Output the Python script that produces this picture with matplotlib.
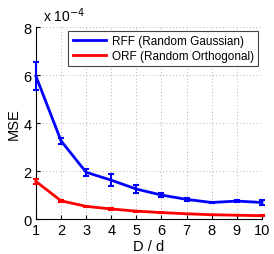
import numpy as np
import matplotlib
matplotlib.use("Agg")
import matplotlib.pyplot as plt

plt.rcParams['font.family'] = ['Liberation Sans', 'DejaVu Sans']

ratio = [1, 2, 3, 4, 5, 6, 7, 8, 9, 10]
rff_mse = [5.96, 3.26, 1.95, 1.62, 1.25, 1.0, 0.82, 0.69, 0.75, 0.69]
rff_err = [0.6, 0.12, 0.15, 0.25, 0.15, 0.1, 0.05, 0.04, 0.04, 0.1]
orf_mse = [1.57, 0.76, 0.53, 0.42, 0.33, 0.27, 0.22, 0.18, 0.16, 0.14]
orf_err = [0.1, 0.03, 0.03, 0.03, 0.02, 0.02, 0.01, 0.01, 0.01, 0.01]

fig = plt.figure(figsize=(2.74, 2.55), dpi=100)
ax = fig.add_axes([0.131, 0.137, 0.825, 0.753])

for y, err, col, lab in [(rff_mse, rff_err, '#0000ff', 'RFF (Random Gaussian)'),
                         (orf_mse, orf_err, '#ff0000', 'ORF (Random Orthogonal)')]:
    ax.plot(ratio, y, color=col, lw=2, label=lab, clip_on=False, zorder=3)
    eb = ax.errorbar(ratio, y, yerr=err, fmt='none', ecolor=col, capsize=2.5,
                     elinewidth=1.5, capthick=1.5, zorder=3)
    for art in eb.lines[1] + eb.lines[2]:
        art.set_clip_on(False)

ax.set_xlim(1, 10)
ax.set_ylim(0, 8)
ax.set_xticks(ratio)
ax.set_yticks([0, 2, 4, 6, 8])
ax.tick_params(direction='in', labelsize=10.5, length=3, pad=3)
ax.grid(True, linestyle=(0, (1, 3)), color='#999999', lw=0.6)
ax.spines['top'].set_visible(False)
ax.spines['right'].set_visible(False)
ax.set_xlabel('D / d', fontsize=10.5, labelpad=1)
ax.set_ylabel('MSE', fontsize=10.5, labelpad=2)
ax.text(0.03, 1.015, r'x 10$^{-4}$', transform=ax.transAxes, fontsize=10, va='bottom')

leg = ax.legend(loc='upper right', fontsize=8.5, fancybox=False, framealpha=1,
                edgecolor='#444444', handlelength=2.8, borderpad=0.35,
                labelspacing=0.25, borderaxespad=0.35, handletextpad=0.5)
leg.get_frame().set_linewidth(0.8)

fig.savefig('out.png', dpi=100)
